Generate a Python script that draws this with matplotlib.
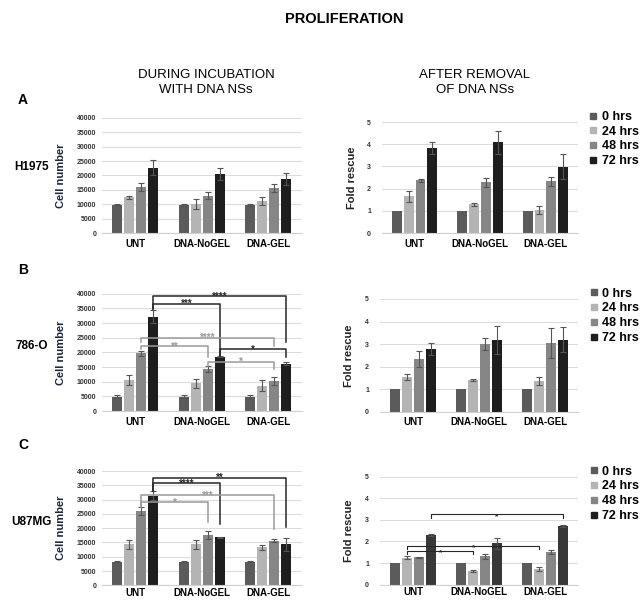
import numpy as np
import matplotlib.pyplot as plt
from matplotlib.lines import Line2D

plt.rcParams['font.family'] = ['Liberation Sans', 'DejaVu Sans']

## Data (rows: UNT, DNA-NoGEL, DNA-GEL ; columns: 0, 24, 48, 72 hrs)
groups = ["UNT", "DNA-NoGEL", "DNA-GEL"]
times = ["0 hrs", "24 hrs", "48 hrs", "72 hrs"]
colors = ["#5b5b5b", "#b4b4b4", "#868686", "#1e1e1e"]

h1975_cells = [[9700, 12400, 16000, 22700], [9700, 10100, 12900, 20400], [9700, 11100, 15800, 18900]]
h1975_cells_err = [[300, 400, 1300, 2600], [300, 1700, 1200, 2100], [300, 1500, 1400, 2100]]
h1975_fold = [[1, 1.65, 2.37, 3.83], [1, 1.29, 2.28, 4.08], [1, 1.05, 2.34, 2.99]]
h1975_fold_err = [[0, 0.26, 0.07, 0.27], [0, 0.05, 0.22, 0.53], [0, 0.18, 0.20, 0.57]]

o786_cells = [[4900, 10500, 19650, 32200], [4900, 9400, 14300, 18500], [4900, 8600, 10300, 16200]]
o786_cells_err = [[600, 1650, 1000, 2300], [500, 1500, 900, 200], [500, 1900, 1300, 500]]
o786_fold = [[1, 1.56, 2.34, 2.79], [1, 1.41, 3.01, 3.19], [1, 1.37, 3.04, 3.20]]
o786_fold_err = [[0, 0.13, 0.35, 0.25], [0, 0.06, 0.27, 0.63], [0, 0.19, 0.66, 0.55]]

u87_cells = [[8300, 14300, 26000, 31400], [8300, 14300, 17450, 16800], [8300, 13300, 15650, 14300]]
u87_cells_err = [[300, 1600, 1500, 1500], [300, 1500, 1400, 200], [300, 800, 400, 2300]]
u87_fold = [[1, 1.25, 1.27, 2.30], [1, 0.62, 1.31, 1.92], [1, 0.73, 1.50, 2.70]]
u87_fold_err = [[0, 0.06, 0.02, 0.04], [0, 0.05, 0.13, 0.25], [0, 0.08, 0.10, 0.04]]

# significance brackets: (group1, time1, group2, time2, top, end1, end2, label, dark?)
o786_sig = [(0, 3, 1, 3, 36600, 34800, 18800, "***", True),
            (0, 3, 2, 3, 39300, 34800, 23600, "****", True),
            (0, 2, 2, 2, 25000, 23600, 22200, "****", False),
            (0, 2, 1, 2, 22200, 21100, 18300, "**", False),
            (1, 3, 2, 3, 21100, 18800, 18300, "*", True),
            (1, 2, 2, 2, 16800, 15300, 14400, "*", False)]
u87_sig = [(0, 3, 2, 3, 37750, 33000, 20500, "**", True),
           (0, 3, 1, 3, 35700, 33000, 21400, "****", True),
           (0, 2, 2, 2, 31550, 27600, 19700, "***", False),
           (0, 2, 1, 2, 29070, 27600, 22200, "*", False)]
u87_fold_sig = [(0, 3, 2, 3, 3.25, 3.07, 3.07, "*", True),
                (0, 1, 2, 1, 1.81, 1.66, 1.66, "*", True),
                (0, 1, 1, 1, 1.56, 1.41, 1.41, "*", True)]

width = 0.15
step = 0.18


def bar_x(g, t):
    return g + (t - 1.5) * step


def draw_bars(ax, vals, errs, ymax, yticks, cols):
    vals = np.array(vals)
    errs = np.array(errs)
    x = np.arange(len(groups))
    for t in range(len(times)):
        xs = x + (t - 1.5) * step
        ax.bar(xs, vals[:, t], width, color=cols[t], zorder=2, label=times[t])
        m = errs[:, t] > 0
        ax.errorbar(xs[m], vals[m, t], yerr=errs[m, t], fmt='none', ecolor='#555555',
                    elinewidth=0.8, capsize=2, capthick=0.8, zorder=3)
    ax.set_xlim(-0.5, 2.5)
    ax.set_ylim(0, ymax)
    ax.set_yticks(yticks)
    ax.set_xticks(x)
    ax.set_xticklabels(groups, fontsize=7, fontweight='bold')
    ax.tick_params(axis='both', length=0)
    ax.tick_params(axis='x', pad=4)
    ax.tick_params(axis='y', labelsize=5, pad=4, labelcolor='#333333')
    for lab in ax.get_yticklabels():
        lab.set_fontweight('bold')
    for s in ['top', 'right', 'left']:
        ax.spines[s].set_visible(False)
    ax.spines['bottom'].set_color('#d0d0d0')
    ax.grid(axis='y', color='#dcdcdc', lw=0.8, zorder=0)
    ax.set_axisbelow(True)


def draw_sig(ax, sig, fs=7, lw=1.1):
    for g1, t1, g2, t2, top, e1, e2, lab, dark in sig:
        c = '#262626' if dark else '#9a9a9a'
        x1, x2 = bar_x(g1, t1), bar_x(g2, t2)
        ax.plot([x1, x1, x2, x2], [e1, top, top, e2], color=c, lw=lw, zorder=4)
        ax.annotate(lab, ((x1 + x2) / 2, top), xytext=(0, -2.5), textcoords='offset points',
                    ha='center', va='baseline', fontsize=fs, fontweight='bold', color=c, zorder=5)


fig = plt.figure(figsize=(6.4, 6.04), dpi=100)

rows = [(h1975_cells, h1975_cells_err, h1975_fold, h1975_fold_err),
        (o786_cells, o786_cells_err, o786_fold, o786_fold_err),
        (u87_cells, u87_cells_err, u87_fold, u87_fold_err)]
left_pos = [[0.159, 0.614, 0.3125, 0.191], [0.159, 0.3195, 0.3125, 0.194], [0.159, 0.031, 0.3125, 0.189]]
right_pos = [[0.597, 0.614, 0.306, 0.184], [0.594, 0.318, 0.309, 0.187], [0.594, 0.032, 0.309, 0.179]]

for i, (cells, cells_err, fold, fold_err) in enumerate(rows):
    axl = fig.add_axes(left_pos[i])
    draw_bars(axl, cells, cells_err, 40000, np.arange(0, 40001, 5000), colors)
    axl.set_ylabel("Cell number", fontsize=8, fontweight='bold', color='#1c2541')
    axl.yaxis.set_label_coords(-0.18, 0.5)

    axr = fig.add_axes(right_pos[i])
    rcols = colors if i < 2 else colors[:3] + ["#383838"]
    draw_bars(axr, fold, fold_err, 5, np.arange(0, 6, 1), rcols)
    axr.tick_params(axis='y', pad=8)
    axr.set_ylabel("Fold rescue", fontsize=8, fontweight='bold', color='#222222')
    axr.yaxis.set_label_coords(-0.13, 0.5)
    handles = [Line2D([], [], ls='none', marker='s', markersize=4, color=c) for c in colors]
    axr.legend(handles, times, loc='upper left', bbox_to_anchor=(1.06, 1.1), frameon=False,
               prop={'weight': 'bold', 'size': 9}, handlelength=0.6, handletextpad=0.4,
               labelspacing=0.22, borderaxespad=0, borderpad=0)
    if i == 1:
        draw_sig(axl, o786_sig)
    if i == 2:
        axl.tick_params(axis='x', pad=2)
        axr.tick_params(axis='x', pad=2)
        draw_sig(axl, u87_sig)
        draw_sig(axr, u87_fold_sig, fs=6, lw=0.8)

fig.text(0.5375, 0.9685, "PROLIFERATION", ha='center', va='center', fontsize=10.5, fontweight='bold')
fig.text(0.322, 0.8634, "DURING INCUBATION\nWITH DNA NSs", ha='center', va='center',
         fontsize=9.5, linespacing=1.3)
fig.text(0.742, 0.8634, "AFTER REMOVAL\nOF DNA NSs", ha='center', va='center',
         fontsize=9.5, linespacing=1.3)
for lab, y in zip(["A", "B", "C"], [0.834, 0.553, 0.263]):
    fig.text(0.036, y, lab, ha='center', va='center', fontsize=10, fontweight='bold')
for lab, y in zip(["H1975", "786-O", "U87MG"], [0.7235, 0.427, 0.136]):
    fig.text(0.049, y, lab, ha='center', va='center', fontsize=8.5, fontweight='bold')

fig.savefig("out.png", dpi=100)
